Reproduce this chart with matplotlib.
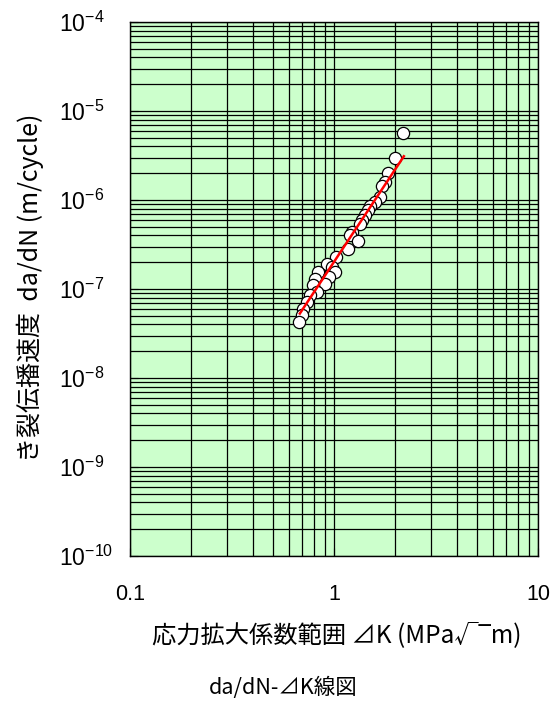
import matplotlib
matplotlib.use("Agg")
import matplotlib.pyplot as plt
from matplotlib.ticker import FixedLocator, LogLocator, NullFormatter

plt.rcParams['font.family'] = ['Liberation Sans', 'Noto Sans CJK JP', 'DejaVu Sans']
plt.rcParams['mathtext.fontset'] = 'custom'
plt.rcParams['mathtext.rm'] = 'Liberation Sans'
plt.rcParams['mathtext.it'] = 'Liberation Sans:italic'
plt.rcParams['mathtext.bf'] = 'Liberation Sans:bold'

# data: stress intensity factor range (MPa√m) vs crack growth rate (m/cycle)
dK = [2.17, 1.99, 1.83, 1.78, 1.71, 1.68, 1.59, 1.50, 1.46, 1.42, 1.37, 1.34,
      1.22, 1.20, 1.315, 1.175, 1.02, 0.92, 0.975, 1.01, 0.838, 0.948, 0.807,
      0.903, 0.793, 0.823, 0.762, 0.734, 0.708, 0.695, 0.674]
dadN = [5.7e-6, 2.93e-6, 1.99e-6, 1.6e-6, 1.43e-6, 1.08e-6, 9.5e-7, 8.5e-7,
        7.7e-7, 6.7e-7, 5.9e-7, 5.4e-7, 4.4e-7, 4.0e-7, 3.5e-7, 2.85e-7,
        2.29e-7, 1.93e-7, 1.77e-7, 1.55e-7, 1.55e-7, 1.36e-7, 1.31e-7,
        1.15e-7, 1.10e-7, 9.3e-8, 8.5e-8, 7.1e-8, 6.0e-8, 5.1e-8, 4.3e-8]
# fitted (Paris law) line end points
fit_dK = [0.68, 2.2]
fit_dadN = [5.3e-8, 3.1e-6]

x_ticks = [0.1, 1, 10]
x_ticklabels = ['0.1', '1', '10']
y_ticks = [1e-10, 1e-9, 1e-8, 1e-7, 1e-6, 1e-5, 1e-4]
y_ticklabels = [r'$10^{-10}$', r'$10^{-9}$', r'$10^{-8}$', r'$10^{-7}$',
                r'$10^{-6}$', r'$10^{-5}$', r'$10^{-4}$']

fig = plt.figure(figsize=(5.52, 7.01), dpi=100)
W, H = 552, 701
ax = fig.add_axes([130 / W, 1 - 556 / H, 408 / W, 534 / H])
ax.set_facecolor('#CCFFCC')
ax.set_xscale('log')
ax.set_yscale('log')
ax.set_xlim(0.1, 10)
ax.set_ylim(1e-10, 1e-4)

ax.xaxis.set_major_locator(FixedLocator(x_ticks))
ax.yaxis.set_major_locator(FixedLocator(y_ticks))
ax.xaxis.set_minor_locator(LogLocator(base=10, subs=range(2, 10), numticks=20))
ax.yaxis.set_minor_locator(LogLocator(base=10, subs=range(2, 10), numticks=20))
ax.xaxis.set_minor_formatter(NullFormatter())
ax.yaxis.set_minor_formatter(NullFormatter())
ax.set_xticklabels(x_ticklabels, fontsize=15.5)
ax.set_yticklabels(y_ticklabels, fontsize=16.5)
for lbl in ax.get_yticklabels():
    lbl.set_horizontalalignment('left')

ax.grid(which='both', color='black', linewidth=0.9)
ax.set_axisbelow(True)
ax.tick_params(which='major', direction='in', length=6, width=0.8, color='black')
ax.tick_params(axis='y', which='major', pad=51)
ax.tick_params(axis='x', which='major', pad=20)
ax.tick_params(which='minor', length=0)
for s in ax.spines.values():
    s.set_color('black')
    s.set_linewidth(1.0)

ax.plot(dK, dadN, linestyle='none', marker='o', markersize=8.8,
        markerfacecolor='white', markeredgecolor='black', markeredgewidth=0.9,
        zorder=3)
ax.plot(fit_dK, fit_dadN, color='#FF0000', linewidth=1.8, zorder=4)

cjk = ['Noto Sans CJK JP', 'DejaVu Sans']
fig.text(337 / W, 1 - 635 / H, '応力拡大係数範囲 ⊿K (MPa√‾m)',
         ha='center', va='center', fontsize=17.5, family=cjk)
fig.text(30 / W, 1 - 288 / H, 'き裂伝播速度  da/dN (m/cycle)',
         ha='center', va='center', rotation=90, fontsize=18, family=cjk)
fig.text(283 / W, 1 - 688 / H, 'da/dN-⊿K線図', ha='center', va='center',
         fontsize=15.5, family=cjk)

fig.savefig('out.png', dpi=100)
